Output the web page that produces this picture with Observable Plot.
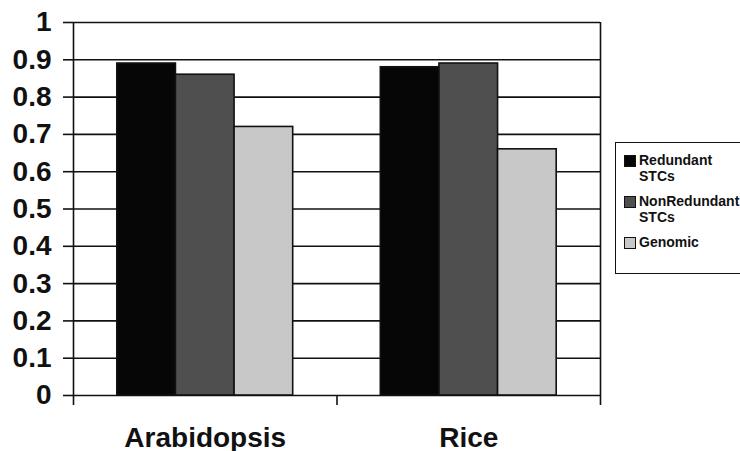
<!DOCTYPE html>
<html>
<head>
<meta charset="utf-8">
<script src="https://cdn.jsdelivr.net/npm/d3@7"></script>
<script src="https://cdn.jsdelivr.net/npm/@observablehq/plot@0.6"></script>
<style>
  html, body { margin: 0; padding: 0; background: #fff; }
  #wrap { position: relative; width: 740px; height: 451px; overflow: hidden; }
  #legend {
    position: absolute; left: 615px; top: 142px; width: 140px; height: 132px;
    border: 1.6px solid #111; box-sizing: border-box;
    font-family: "Liberation Sans", Arial, sans-serif; font-weight: bold; font-size: 14px;
    line-height: 15.5px; color: #111; padding: 10px 0 0 8px;
  }
  .item { display: flex; align-items: flex-start; margin-bottom: 10px; }
  .sw { width: 10px; height: 10px; border: 1px solid #111; margin-top: 2px; margin-right: 3px; flex: none; }
</style>
</head>
<body>
<div id="wrap">
  <div id="chart"></div>
  <div id="legend"></div>
</div>
<script>
const groups = ["Arabidopsis", "Rice"];
const seriesNames = ["Redundant STCs", "NonRedundant STCs", "Genomic"];
const legendLines = [["Redundant", "STCs"], ["NonRedundant", "STCs"], ["Genomic"]];
const redundant = [0.89, 0.88];
const nonRedundant = [0.86, 0.89];
const genomic = [0.72, 0.66];
const seriesColors = ["#060606", "#4f4f4f", "#c8c8c8"];
const yTickValues = [0, 0.1, 0.2, 0.3, 0.4, 0.5, 0.6, 0.7, 0.8, 0.9, 1];
const yTickLabels = ["0", "0.1", "0.2", "0.3", "0.4", "0.5", "0.6", "0.7", "0.8", "0.9", "1"];

const seriesValues = [redundant, nonRedundant, genomic];
const rows = [];
groups.forEach((g, gi) => {
  seriesNames.forEach((s, si) => {
    rows.push({group: g, gi, series: s, si, value: seriesValues[si][gi]});
  });
});

const barW = 0.2225;
const pad = (1 - 3 * barW) / 2;

const plot = Plot.plot({
  width: 740,
  height: 451,
  marginLeft: 73,
  marginRight: 140,
  marginTop: 22,
  marginBottom: 56,
  style: {fontFamily: "Liberation Sans, Arial, sans-serif", fontWeight: "bold", fontSize: "28px", color: "#111", background: "#fff"},
  x: {type: "linear", domain: [0, 2], axis: null, label: null},
  y: {domain: [0, 1], axis: null, label: null},
  color: {domain: seriesNames, range: seriesColors},
  marks: [
    Plot.ruleY(yTickValues, {stroke: "#111", strokeWidth: 1.6}),
    Plot.ruleX([0, 2], {y1: 0, y2: 1, stroke: "#111", strokeWidth: 1.6}),
    Plot.rectY(rows, {
      x1: d => d.gi + pad + d.si * barW,
      x2: d => d.gi + pad + (d.si + 1) * barW,
      y1: 0,
      y2: "value",
      fill: "series",
      stroke: "#111",
      strokeWidth: 1.6
    }),
    Plot.axisY({
      ticks: yTickValues,
      tickFormat: (d, i) => yTickLabels[i],
      tickSize: 10,
      tickPadding: 12,
      strokeWidth: 1.6,
      stroke: "#111",
      fill: "#111",
      fontSize: 28,
      fontWeight: "bold",
      label: null
    }),
    Plot.axisX({
      ticks: [0, 1, 2],
      tickFormat: () => "",
      tickSize: 10,
      strokeWidth: 1.6,
      stroke: "#111",
      label: null
    }),
    Plot.axisX({
      ticks: groups.map((g, gi) => gi + 0.5),
      tickFormat: d => groups[Math.floor(d)],
      tickSize: 0,
      tickPadding: 32,
      fill: "#111",
      fontSize: 28,
      fontWeight: "bold",
      label: null
    })
  ]
});
document.getElementById("chart").appendChild(plot);

const legend = document.getElementById("legend");
seriesNames.forEach((s, i) => {
  const item = document.createElement("div");
  item.className = "item";
  const sw = document.createElement("div");
  sw.className = "sw";
  sw.style.background = seriesColors[i];
  const label = document.createElement("div");
  label.innerHTML = legendLines[i].join("<br>");
  item.appendChild(sw);
  item.appendChild(label);
  legend.appendChild(item);
});
</script>
</body>
</html>
